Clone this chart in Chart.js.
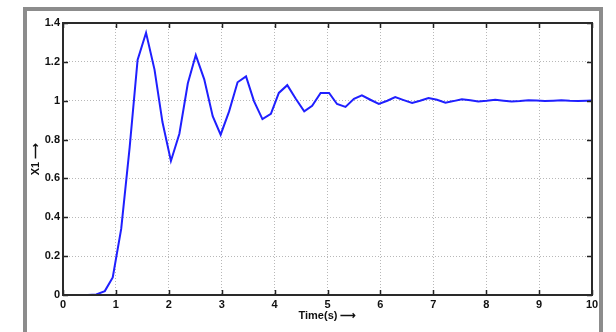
<!DOCTYPE html>
<html>
<head>
<meta charset="utf-8">
<script src="https://cdn.jsdelivr.net/npm/chart.js@4"></script>
<style>
  html, body { margin: 0; padding: 0; background: #fff; }
  #wrap { position: relative; width: 616px; height: 332px; overflow: hidden; background: #fff; }
  #frame { position: absolute; left: 23px; top: 7px; width: 580px; height: 360px; border: 4px solid #8c8c8c; box-sizing: border-box; }
  #c { position: absolute; left: 0; top: 0; }
</style>
</head>
<body>
<div id="wrap">
  <div id="frame"></div>
  <canvas id="c" width="616" height="332"></canvas>
</div>
<script>
const times = [0, 0.16, 0.31, 0.47, 0.63, 0.79, 0.94, 1.10, 1.26, 1.41,
  1.57, 1.73, 1.88, 2.04, 2.20, 2.36, 2.51, 2.67, 2.83, 2.98,
  3.14, 3.30, 3.46, 3.61, 3.77, 3.93, 4.08, 4.24, 4.40, 4.56,
  4.71, 4.87, 5.03, 5.18, 5.34, 5.50, 5.65, 5.81, 5.97, 6.13,
  6.28, 6.44, 6.60, 6.75, 6.91, 7.07, 7.23, 7.38, 7.54, 7.70,
  7.85, 8.01, 8.17, 8.33, 8.48, 8.64, 8.80, 8.95, 9.11, 9.27,
  9.42, 9.58, 9.74, 9.90, 10.05];
const x1Values = [0, 0, 0, 0, 0.003, 0.02, 0.09, 0.34, 0.76, 1.21,
  1.35, 1.16, 0.89, 0.69, 0.83, 1.09, 1.235, 1.11, 0.92, 0.825,
  0.945, 1.095, 1.125, 0.998, 0.905, 0.932, 1.04, 1.08, 1.01, 0.945,
  0.974, 1.04, 1.04, 0.983, 0.968, 1.01, 1.028, 1.005, 0.983, 1.0,
  1.019, 1.003, 0.988, 1.0, 1.014, 1.005, 0.99, 0.998, 1.008, 1.002,
  0.996, 1.0, 1.005, 1.0, 0.996, 0.999, 1.003, 1.001, 0.998, 1.0,
  1.002, 1.0, 0.999, 1.0, 1.001];
const xTicks = [0, 1, 2, 3, 4, 5, 6, 7, 8, 9, 10];
const yTicks = [0, 0.2, 0.4, 0.6, 0.8, 1, 1.2, 1.4];
const yTickLabels = ['0', '0.2', '0.4', '0.6', '0.8', '1', '1.2', '1.4'];
const xTitle = 'Time(s) \u27F6';
const yTitle = 'X1 \u27F6';

const points = times.map((t, i) => ({ x: t, y: x1Values[i] }));

const tickFont = { family: 'Liberation Sans, Arial, sans-serif', size: 11, weight: 'bold' };

const boxPlugin = {
  id: 'boxPlugin',
  afterDatasetsDraw(chart) {
    const { ctx, chartArea: a, scales } = chart;
    ctx.save();
    ctx.strokeStyle = '#222';
    ctx.lineWidth = 1.5;
    ctx.beginPath();
    const L = 5;
    xTicks.forEach(v => {
      const px = Math.round(scales.x.getPixelForValue(v)) + 0.5;
      ctx.moveTo(px, a.bottom); ctx.lineTo(px, a.bottom - L);
      ctx.moveTo(px, a.top); ctx.lineTo(px, a.top + L);
    });
    yTicks.forEach(v => {
      const py = Math.round(scales.y.getPixelForValue(v)) + 0.5;
      ctx.moveTo(a.left, py); ctx.lineTo(a.left + L, py);
      ctx.moveTo(a.right, py); ctx.lineTo(a.right - L, py);
    });
    ctx.stroke();
    ctx.lineWidth = 2;
    ctx.strokeStyle = '#2a2a2a';
    ctx.strokeRect(a.left, a.top, a.right - a.left, a.bottom - a.top);
    ctx.restore();
  }
};

new Chart(document.getElementById('c'), {
  type: 'scatter',
  data: {
    datasets: [{
      data: points,
      showLine: true,
      borderColor: '#1f1fff',
      borderWidth: 2,
      pointRadius: 0,
      tension: 0,
      fill: false
    }]
  },
  options: {
    responsive: false,
    animation: false,
    devicePixelRatio: 1,
    layout: { padding: { top: 23, right: 24, left: 0, bottom: 0 } },
    plugins: { legend: { display: false }, tooltip: { enabled: false } },
    scales: {
      x: {
        type: 'linear', min: 0, max: 10,
        afterBuildTicks: s => { s.ticks = xTicks.map(v => ({ value: v })); },
        afterFit: s => { s.height = 37; },
        ticks: { color: '#111', font: tickFont, padding: 3, maxRotation: 0, autoSkip: false,
                 callback: v => String(v) },
        grid: { color: '#b8b8b8', lineWidth: 1, drawTicks: false },
        border: { display: false, dash: [1, 2] },
        title: { display: true, text: xTitle, color: '#111', font: { family: 'Liberation Sans, Arial, sans-serif', size: 11, weight: 'bold' }, padding: { top: 9, bottom: 9 } }
      },
      y: {
        type: 'linear', min: 0, max: 1.4,
        afterBuildTicks: s => { s.ticks = yTicks.map(v => ({ value: v })); },
        afterFit: s => { s.width = 63; },
        ticks: { color: '#111', font: tickFont, padding: 3, autoSkip: false,
                 callback: (v) => { const i = yTicks.findIndex(t => Math.abs(t - v) < 1e-9); return i >= 0 ? yTickLabels[i] : ''; } },
        grid: { color: '#b8b8b8', lineWidth: 1, drawTicks: false },
        border: { display: false, dash: [1, 2] },
        title: { display: true, text: yTitle, color: '#111', font: { family: 'Liberation Sans, Arial, sans-serif', size: 11, weight: 'bold' }, padding: { top: 29, bottom: 0 } }
      }
    }
  },
  plugins: [boxPlugin]
});
</script>
</body>
</html>
